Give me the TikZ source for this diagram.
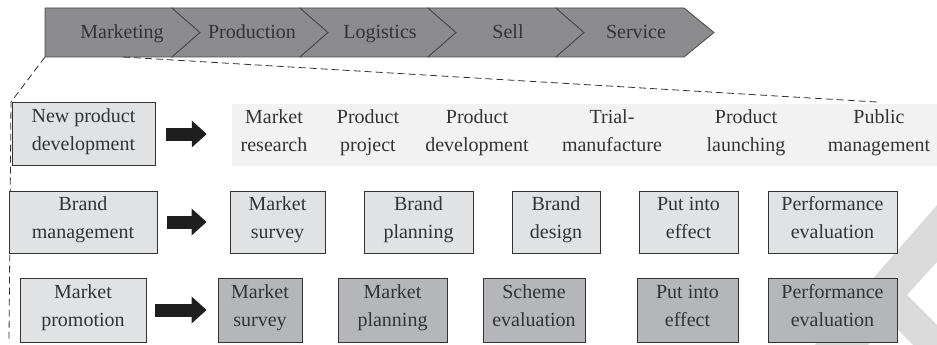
\documentclass[tikz,border=0pt]{standalone}
\usepackage{fontspec}
\setmainfont{Liberation Serif}
\usepackage{tikz}
\usetikzlibrary{arrows.meta}
\definecolor{ink}{HTML}{333333}
\definecolor{chev}{HTML}{8C8C8F}
\definecolor{lite}{HTML}{E1E2E4}
\definecolor{dark}{HTML}{B5B6B9}
\definecolor{band}{HTML}{F1F2F1}
\definecolor{wmark}{HTML}{DADADA}
\definecolor{arrowc}{HTML}{1E1E1E}

\begin{document}
\begin{tikzpicture}[x=1pt, y=-1pt,
    txt/.style={text=ink, align=center, inner sep=0pt, font=\fontsize{20}{28}\selectfont,
        execute at begin node=\strut, execute at end node=\strut},
    box/.style={txt, draw=ink, line width=0.8pt, fill=lite, minimum height=62pt},
    darkbox/.style={box, fill=dark, minimum height=64pt},
    chevron/.style={fill=chev, draw=ink!90, line width=0.8pt, line join=miter},
    blk/.style={draw=arrowc, line width=13pt, -{Triangle[length=15pt, width=26pt]}},
    zoomline/.style={draw=ink, line width=0.8pt, dash pattern=on 7pt off 4pt}]
    \useasboundingbox (0,0) rectangle (937,345);
    % watermark
    \fill[wmark] (937,205) -- (937,262) -- (907,295) -- (937,325) -- (937,345) -- (913,345)
        -- (888,320) -- (868,345) -- (815,345) -- cycle;
    % value chain
    \draw[chevron] (45,8) -- (172,8) -- (200,32.5) -- (172,57) -- (45,57) -- cycle;
    \draw[chevron] (172,8) -- (300,8) -- (328,32.5) -- (300,57) -- (172,57) -- (200,32.5) -- cycle;
    \draw[chevron] (300,8) -- (428,8) -- (456,32.5) -- (428,57) -- (300,57) -- (328,32.5) -- cycle;
    \draw[chevron] (428,8) -- (556,8) -- (584,32.5) -- (556,57) -- (428,57) -- (456,32.5) -- cycle;
    \draw[chevron] (556,8) -- (684,8) -- (714,32.5) -- (684,57) -- (556,57) -- (584,32.5) -- cycle;
    \node[txt] (c1) at (122,32.5) {Marketing};
    \node[txt] (c2) at (252,32.5) {Production};
    \node[txt] (c3) at (380,32.5) {Logistics};
    \node[txt] (c4) at (508,32.5) {Sell};
    \node[txt] (c5) at (636,32.5) {Service};
    \coordinate (m0) at (45,57);
    \coordinate (m1) at (11,102);
    \coordinate (m2) at (9,341);
    \coordinate (m3) at (123,57);
    \coordinate (m4) at (877,102);
    \draw[zoomline] (m0) -- (m1) -- (m2);
    \draw[zoomline] (m3) -- (m4);
    % left column
    \node[box, minimum width=143pt, minimum height=63pt] (r1) at (83.5,134) {New product\\development};
    \node[box, minimum width=148pt] (r2) at (83,222) {Brand\\management};
    \node[box, minimum width=126pt, minimum height=64pt] (r3) at (83,310) {Market\\promotion};
    % new product development
    \node[fill=band, minimum width=705pt, minimum height=62pt, inner sep=0pt] (band) at (584.5,135) {};
    \node[txt] (a1) at (274,135) {Market\\research};
    \node[txt] (a2) at (368,135) {Product\\project};
    \node[txt] (a3) at (477,135) {Product\\development};
    \node[txt] (a4) at (612,135) {Trial-\\manufacture};
    \node[txt] (a5) at (746,135) {Product\\launching};
    \node[txt] (a6) at (879,135) {Public\\management};
    % brand management
    \node[box, minimum width=95pt] (b1) at (277.5,222) {Market\\survey};
    \node[box, minimum width=109pt] (b2) at (418.5,222) {Brand\\planning};
    \node[box, minimum width=88pt] (b3) at (556,222) {Brand\\design};
    \node[box, minimum width=99pt] (b4) at (688.5,222) {Put into\\effect};
    \node[box, minimum width=129pt] (b5) at (832.5,222) {Performance\\evaluation};
    % market promotion
    \node[darkbox, minimum width=84pt] (d1) at (260,310) {Market\\survey};
    \node[darkbox, minimum width=109pt] (d2) at (392.5,310) {Market\\planning};
    \node[darkbox, minimum width=102pt] (d3) at (534,310) {Scheme\\evaluation};
    \node[darkbox, minimum width=101pt] (d4) at (687.5,310) {Put into\\effect};
    \node[darkbox, minimum width=129pt] (d5) at (832.5,310) {Performance\\evaluation};
    \draw[blk, shorten <=11pt, shorten >=25pt] (r1.east) -- (r1.east -| band.west);
    \draw[blk, shorten <=10pt, shorten >=23pt] (r2.east) -- (b1.west);
    \draw[blk, shorten <=9pt, shorten >=11pt] (r3.east) -- (d1.west);
\end{tikzpicture}
\end{document}
